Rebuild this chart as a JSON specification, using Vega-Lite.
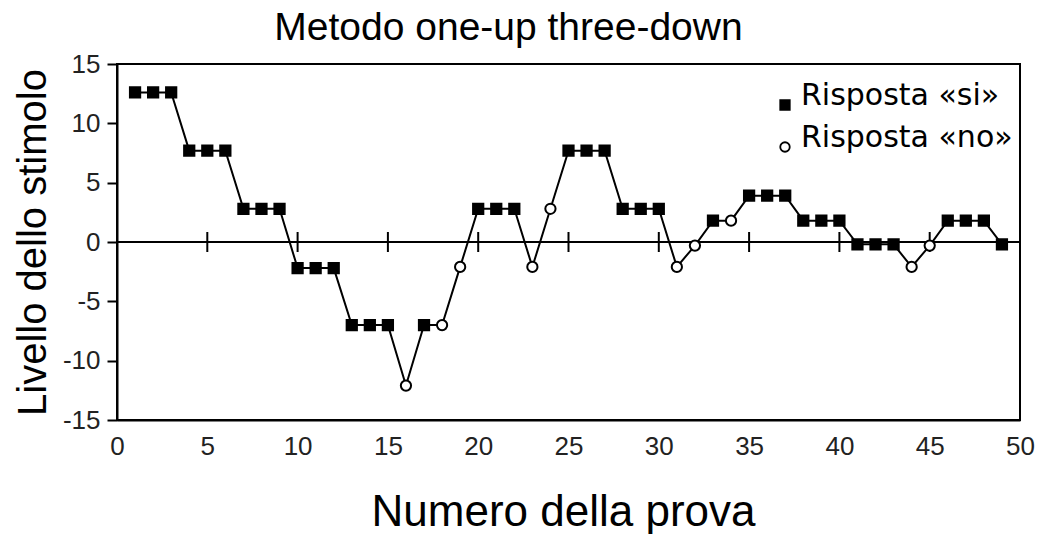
{
  "$schema": "https://vega.github.io/schema/vega-lite/v6.json",
  "autosize": "none",
  "width": 903,
  "height": 356,
  "padding": {"left": 117, "top": 64, "right": 20, "bottom": 114},
  "background": "white",
  "title": {
    "text": "Metodo one-up three-down",
    "font": "Liberation Sans",
    "fontSize": 39,
    "fontWeight": "normal",
    "color": "black",
    "anchor": "middle",
    "dx": -60,
    "dy": 37,
    "baseline": "alphabetic",
    "offset": 9
  },
  "config": {
    "view": {"stroke": "black", "strokeWidth": 2},
    "axis": {"grid": false},
    "legend": {
      "orient": "none",
      "legendX": 653,
      "legendY": 26,
      "padding": 0,
      "labelFont": "DejaVu Sans",
      "labelFontSize": 30,
      "labelColor": "black",
      "labelBaseline": "alphabetic",
      "labelLimit": 500,
      "labelOffset": 1,
      "rowPadding": 9,
      "symbolSize": 90,
      "symbolStrokeWidth": 1.8
    }
  },
  "datasets": {
    "prove": [
      {"prova": 1, "livello": 12.6, "risposta": "Risposta «si»"},
      {"prova": 2, "livello": 12.6, "risposta": "Risposta «si»"},
      {"prova": 3, "livello": 12.6, "risposta": "Risposta «si»"},
      {"prova": 4, "livello": 7.7, "risposta": "Risposta «si»"},
      {"prova": 5, "livello": 7.7, "risposta": "Risposta «si»"},
      {"prova": 6, "livello": 7.7, "risposta": "Risposta «si»"},
      {"prova": 7, "livello": 2.8, "risposta": "Risposta «si»"},
      {"prova": 8, "livello": 2.8, "risposta": "Risposta «si»"},
      {"prova": 9, "livello": 2.8, "risposta": "Risposta «si»"},
      {"prova": 10, "livello": -2.2, "risposta": "Risposta «si»"},
      {"prova": 11, "livello": -2.2, "risposta": "Risposta «si»"},
      {"prova": 12, "livello": -2.2, "risposta": "Risposta «si»"},
      {"prova": 13, "livello": -7.0, "risposta": "Risposta «si»"},
      {"prova": 14, "livello": -7.0, "risposta": "Risposta «si»"},
      {"prova": 15, "livello": -7.0, "risposta": "Risposta «si»"},
      {"prova": 16, "livello": -12.1, "risposta": "Risposta «no»"},
      {"prova": 17, "livello": -7.0, "risposta": "Risposta «si»"},
      {"prova": 18, "livello": -7.0, "risposta": "Risposta «no»"},
      {"prova": 19, "livello": -2.1, "risposta": "Risposta «no»"},
      {"prova": 20, "livello": 2.8, "risposta": "Risposta «si»"},
      {"prova": 21, "livello": 2.8, "risposta": "Risposta «si»"},
      {"prova": 22, "livello": 2.8, "risposta": "Risposta «si»"},
      {"prova": 23, "livello": -2.1, "risposta": "Risposta «no»"},
      {"prova": 24, "livello": 2.8, "risposta": "Risposta «no»"},
      {"prova": 25, "livello": 7.7, "risposta": "Risposta «si»"},
      {"prova": 26, "livello": 7.7, "risposta": "Risposta «si»"},
      {"prova": 27, "livello": 7.7, "risposta": "Risposta «si»"},
      {"prova": 28, "livello": 2.8, "risposta": "Risposta «si»"},
      {"prova": 29, "livello": 2.8, "risposta": "Risposta «si»"},
      {"prova": 30, "livello": 2.8, "risposta": "Risposta «si»"},
      {"prova": 31, "livello": -2.1, "risposta": "Risposta «no»"},
      {"prova": 32, "livello": -0.3, "risposta": "Risposta «no»"},
      {"prova": 33, "livello": 1.8, "risposta": "Risposta «si»"},
      {"prova": 34, "livello": 1.8, "risposta": "Risposta «no»"},
      {"prova": 35, "livello": 3.9, "risposta": "Risposta «si»"},
      {"prova": 36, "livello": 3.9, "risposta": "Risposta «si»"},
      {"prova": 37, "livello": 3.9, "risposta": "Risposta «si»"},
      {"prova": 38, "livello": 1.8, "risposta": "Risposta «si»"},
      {"prova": 39, "livello": 1.8, "risposta": "Risposta «si»"},
      {"prova": 40, "livello": 1.8, "risposta": "Risposta «si»"},
      {"prova": 41, "livello": -0.2, "risposta": "Risposta «si»"},
      {"prova": 42, "livello": -0.2, "risposta": "Risposta «si»"},
      {"prova": 43, "livello": -0.2, "risposta": "Risposta «si»"},
      {"prova": 44, "livello": -2.1, "risposta": "Risposta «no»"},
      {"prova": 45, "livello": -0.3, "risposta": "Risposta «no»"},
      {"prova": 46, "livello": 1.8, "risposta": "Risposta «si»"},
      {"prova": 47, "livello": 1.8, "risposta": "Risposta «si»"},
      {"prova": 48, "livello": 1.8, "risposta": "Risposta «si»"},
      {"prova": 49, "livello": -0.2, "risposta": "Risposta «si»"}
    ],
    "tacche": [
      {"prova": 5}, {"prova": 10}, {"prova": 15}, {"prova": 20}, {"prova": 25},
      {"prova": 30}, {"prova": 35}, {"prova": 40}, {"prova": 45}
    ],
    "zero": [{"livello": 0}]
  },
  "layer": [
    {
      "data": {"name": "zero"},
      "mark": {"type": "rule", "color": "black", "strokeWidth": 2},
      "encoding": {"y": {"field": "livello", "type": "quantitative"}}
    },
    {
      "data": {"name": "tacche"},
      "mark": {"type": "tick", "orient": "vertical", "size": 20, "thickness": 2, "color": "black", "opacity": 1},
      "encoding": {
        "x": {"field": "prova", "type": "quantitative"},
        "y": {"datum": 0, "type": "quantitative"}
      }
    },
    {
      "data": {"name": "prove"},
      "mark": {"type": "line", "color": "black", "strokeWidth": 2},
      "encoding": {
        "x": {"field": "prova", "type": "quantitative"},
        "y": {"field": "livello", "type": "quantitative"}
      }
    },
    {
      "data": {"name": "prove"},
      "mark": {"type": "point", "filled": true, "opacity": 1, "strokeWidth": 2},
      "encoding": {
        "x": {
          "field": "prova",
          "type": "quantitative",
          "scale": {"domain": [0, 50], "nice": false, "zero": false},
          "axis": {
            "values": [0, 5, 10, 15, 20, 25, 30, 35, 40, 45, 50],
            "ticks": false,
            "tickSize": 0,
            "domainColor": "black",
            "domainWidth": 2,
            "labelFont": "Liberation Sans",
            "labelFontSize": 26,
            "labelColor": "#222222",
            "labelPadding": 13,
            "labelFlush": false,
            "labelExpr": "'' + datum.value",
            "title": "Numero della prova",
            "titleFont": "Liberation Sans",
            "titleFontSize": 44,
            "titleFontWeight": "normal",
            "titleColor": "black",
            "titleX": 446,
            "titleY": 105,
            "titleAlign": "center",
            "titleBaseline": "alphabetic"
          }
        },
        "y": {
          "field": "livello",
          "type": "quantitative",
          "scale": {"domain": [-15, 15], "nice": false},
          "axis": {
            "values": [-15, -10, -5, 0, 5, 10, 15],
            "tickSize": 10,
            "tickWidth": 2,
            "tickColor": "black",
            "domainColor": "black",
            "domainWidth": 2,
            "labelFont": "Liberation Sans",
            "labelFontSize": 26,
            "labelColor": "#222222",
            "labelPadding": 7,
            "labelFlush": false,
            "labelExpr": "'' + datum.value",
            "title": "Livello dello stimolo",
            "titleFont": "Liberation Sans",
            "titleFontSize": 40,
            "titleFontWeight": "normal",
            "titleColor": "black",
            "titleAngle": -90,
            "titleX": -72,
            "titleY": 178,
            "titleAlign": "center",
            "titleBaseline": "alphabetic"
          }
        },
        "shape": {
          "field": "risposta",
          "type": "nominal",
          "scale": {"domain": ["Risposta «si»", "Risposta «no»"], "range": ["square", "circle"]},
          "legend": {"title": null}
        },
        "fill": {
          "field": "risposta",
          "type": "nominal",
          "scale": {"domain": ["Risposta «si»", "Risposta «no»"], "range": ["black", "white"]},
          "legend": {"title": null}
        },
        "stroke": {
          "field": "risposta",
          "type": "nominal",
          "scale": {"domain": ["Risposta «si»", "Risposta «no»"], "range": ["black", "black"]},
          "legend": {"title": null}
        },
        "size": {"value": 105}
      }
    }
  ]
}
